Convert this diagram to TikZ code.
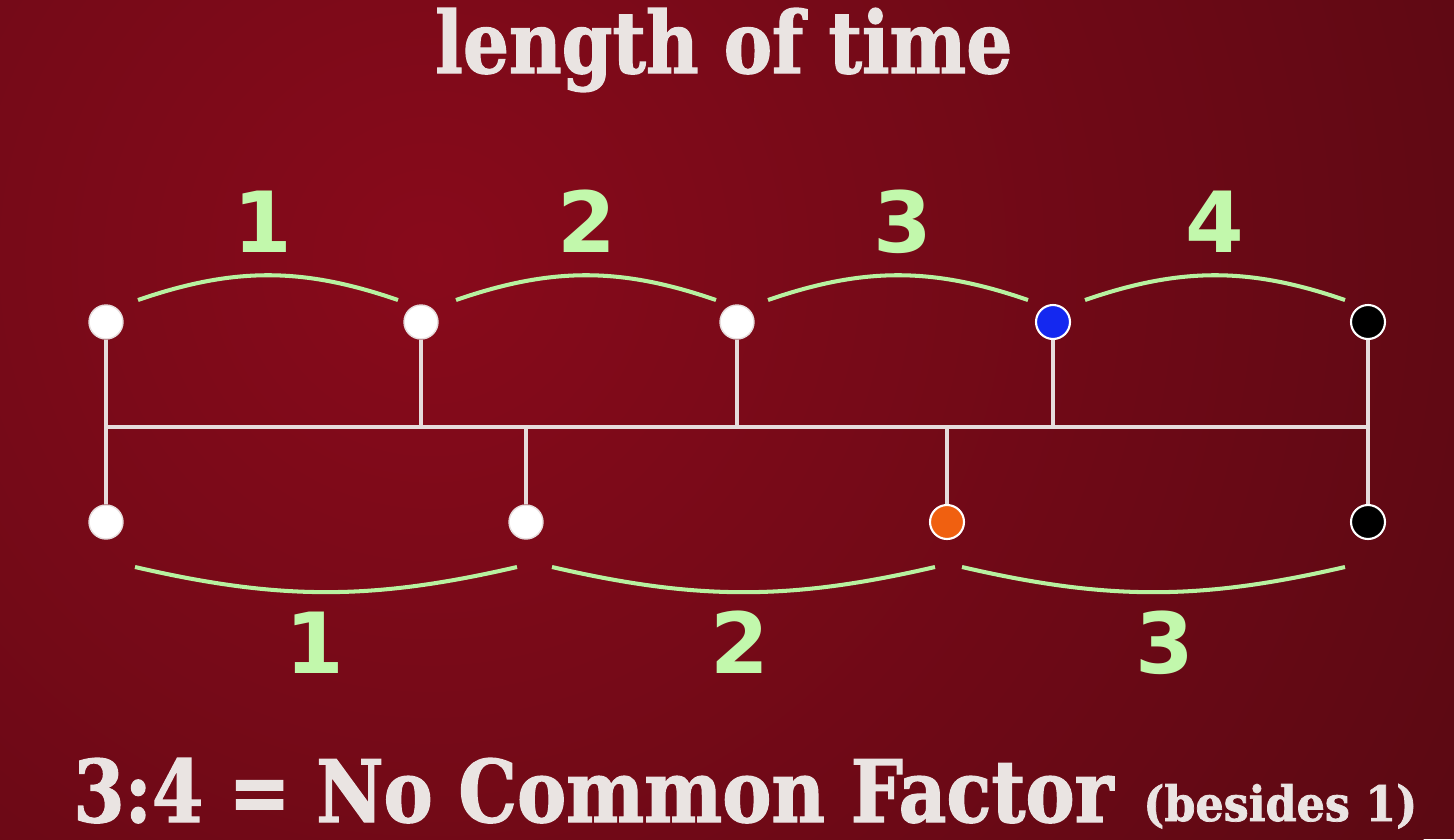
\documentclass[tikz,border=0pt]{standalone}
\usepackage{fontspec}
\setmainfont{DejaVu Sans}
\newfontfamily\headfont{DejaVu Serif Condensed}[FakeBold=1.5]
\usepackage{tikz}
\usetikzlibrary{calc}

\definecolor{bgdark}{HTML}{5C0913}
\definecolor{bglight}{HTML}{880A1B}
\definecolor{barwhite}{HTML}{E6DCDC}
\definecolor{arcgreen}{HTML}{B8F2A0}
\definecolor{numgreen}{HTML}{C2F8AC}
\definecolor{headwhite}{HTML}{EAE4E2}
\definecolor{dotblue}{HTML}{1428F0}
\definecolor{dotorange}{HTML}{F06010}

\begin{document}
\begin{tikzpicture}[x=0.02cm, y=-0.02cm,
    dot/.style={circle, inner sep=0pt, minimum size=0.68cm,
        fill=white, draw=barwhite, line width=0.8pt},
    tick/.style={draw=barwhite, line width=1.9pt},
    arcline/.style={draw=arcgreen, line width=2.3pt},
    countlbl/.style={text=numgreen, font=\fontsize{48}{48}\selectfont\bfseries,
        anchor=base, inner sep=0pt},
    headlbl/.style={text=headwhite, font=\headfont\bfseries, anchor=base west,
        inner sep=0pt},
]
% Background
\useasboundingbox (0,0) rectangle (1454,839);
\fill[bgdark] (0,0) rectangle (1454,839);
\begin{scope}
    \clip (0,0) rectangle (1454,839);
    \shade[inner color=bglight, outer color=bgdark] (430,260) circle (1150);
\end{scope}

% Title
\node[headlbl] (title) at (435,73) {\resizebox{11.54cm}{1.3cm}{length of time}};

% Upper row: four equal parts
\node[dot] (t1) at (106,322) {};
\node[dot] (t2) at (421,322) {};
\node[dot] (t3) at (737,322) {};
\node[dot, fill=dotblue, draw=white, line width=1.2pt] (t4) at (1053,322) {};
\node[dot, fill=black, draw=white, line width=1.2pt] (t5) at (1368,322) {};

% Lower row: three equal parts
\node[dot] (b1) at (106,522) {};
\node[dot] (b2) at (526,522) {};
\node[dot, fill=dotorange, draw=white, line width=1.2pt] (b3) at (947,522) {};
\node[dot, fill=black, draw=white, line width=1.2pt] (b4) at (1368,522) {};

% Shared bar and ticks
\coordinate (barL) at (106,427);
\coordinate (barR) at (1368,427);
\draw[tick] (barL) -- (barR);
\draw[tick] (t1) -- (b1);
\draw[tick] (t5) -- (b4);
\draw[tick] (t2) -- (t2 |- barL);
\draw[tick] (t3) -- (t3 |- barL);
\draw[tick] (t4) -- (t4 |- barL);
\draw[tick] (b2) -- (b2 |- barL);
\draw[tick] (b3) -- (b3 |- barL);

% Upper arcs and counts
\draw[arcline] (138,300) to[bend left=19] (398,300);
\draw[arcline] (456,300) to[bend left=19] (716,300);
\draw[arcline] (768,300) to[bend left=19] (1028,300);
\draw[arcline] (1085,300) to[bend left=19] (1345,300);
\node[countlbl] (u1) at (263,252) {1};
\node[countlbl] (u2) at (587,252) {2};
\node[countlbl] (u3) at (903,252) {3};
\node[countlbl] (u4) at (1215,252) {4};

% Lower arcs and counts
\draw[arcline] (135,567) to[bend right=13] (517,567);
\draw[arcline] (552,567) to[bend right=13] (935,567);
\draw[arcline] (962,567) to[bend right=13] (1345,567);
\node[countlbl] (l1) at (315,673) {1};
\node[countlbl] (l2) at (740,673) {2};
\node[countlbl] (l3) at (1165,673) {3};

% Bottom line
\node[headlbl] (ratio) at (73,822) {\resizebox{20.8cm}{1.28cm}{3:4 = No Common Factor}};
\node[headlbl] (besides) at (1143,821) {\resizebox{5.48cm}{0.74cm}{(besides 1)}};
\end{tikzpicture}
\end{document}
